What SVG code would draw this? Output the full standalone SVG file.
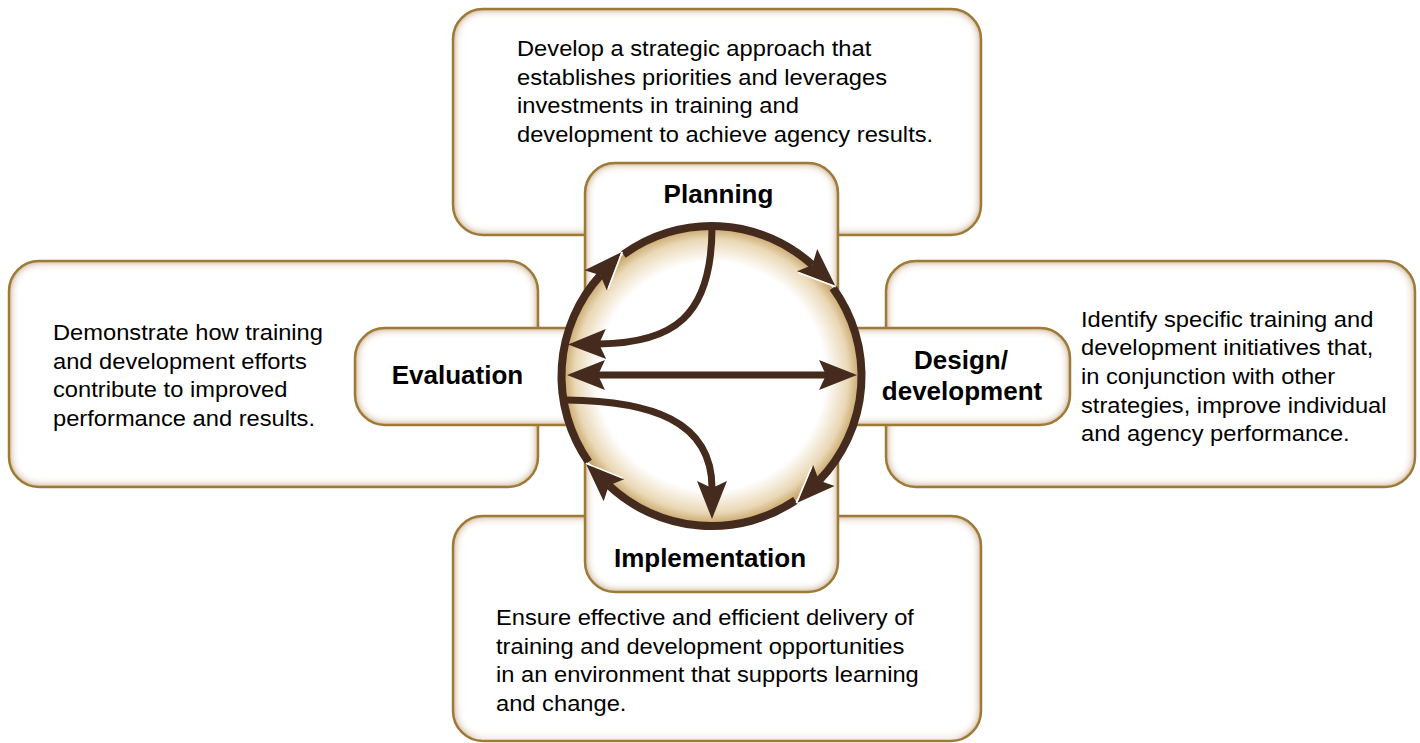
<svg xmlns="http://www.w3.org/2000/svg" width="1420" height="743" viewBox="0 0 1420 743">
  <defs>
    <!-- soft tan glow just inside each rounded panel -->
    <filter id="glow" filterUnits="userSpaceOnUse" x="0" y="0" width="1420" height="743">
      <feFlood flood-color="#c29c58" result="c"/>
      <feComposite in="c" in2="SourceAlpha" operator="out" result="o"/>
      <feGaussianBlur in="o" stdDeviation="5" result="b"/>
      <feComponentTransfer in="b" result="bb">
        <feFuncA type="linear" slope="1.5"/>
      </feComponentTransfer>
      <feComposite in="bb" in2="SourceAlpha" operator="in" result="inner"/>
      <feMerge>
        <feMergeNode in="SourceGraphic"/>
        <feMergeNode in="inner"/>
      </feMerge>
    </filter>
    <radialGradient id="disc" cx="0.5" cy="0.5" r="0.5">
      <stop offset="0" stop-color="#ffffff"/>
      <stop offset="0.76" stop-color="#ffffff"/>
      <stop offset="0.91" stop-color="#ead8b6"/>
      <stop offset="1" stop-color="#c49f5f"/>
    </radialGradient>
    <!-- arrowhead for the inner arrows -->
    <marker id="head" markerUnits="userSpaceOnUse" markerWidth="44" markerHeight="34" viewBox="0 -17 44 34" refX="7" refY="0" orient="auto-start-reverse" overflow="visible">
      <path d="M0,-15 L38,0 L0,15 L7,0 Z" fill="#452a1e"/>
    </marker>
    <!-- arrowhead for the cycle ring, with a light inner edge -->
    <marker id="ringHead" markerUnits="userSpaceOnUse" markerWidth="44" markerHeight="34" viewBox="0 -17 44 34" refX="7" refY="0" orient="auto" overflow="visible">
      <path d="M0,-15 L38,0 L0,15 L7,0 Z" fill="#452a1e"/>
      <path d="M39,0.5 L2,15" stroke="#ffffff" stroke-width="1.6" fill="none"/>
    </marker>
  </defs>
  <style>
    .box{fill:#ffffff;filter:url(#glow)}
    .edge{fill:none;stroke:#9e7a38;stroke-width:2.5}
    .desc{font-family:"Liberation Sans",Arial,sans-serif;font-size:22px;fill:#000000}
    .label{font-family:"Liberation Sans",Arial,sans-serif;font-size:26px;font-weight:bold;fill:#000000;text-anchor:middle}
    .wire{fill:none;stroke:#452a1e;stroke-width:8}
    .tip{fill:none;stroke:none;marker-end:url(#ringHead)}
    .arrow{fill:none;stroke:#452a1e;stroke-width:7}
  </style>

  <!-- description panels -->
  <g id="desc-planning">
    <rect class="box" x="453" y="9" width="528" height="226" rx="30"/>
    <rect class="edge" x="453" y="9" width="528" height="226" rx="30"/>
    <text class="desc" transform="translate(517,56) scale(1.077,1)">
      <tspan x="0" y="0">Develop a strategic approach that</tspan>
      <tspan x="0" y="28.7">establishes priorities and leverages</tspan>
      <tspan x="0" y="57.4">investments in training and</tspan>
      <tspan x="0" y="86.1">development to achieve agency results.</tspan>
    </text>
  </g>
  <g id="desc-evaluation">
    <rect class="box" x="9" y="261" width="529" height="226" rx="30"/>
    <rect class="edge" x="9" y="261" width="529" height="226" rx="30"/>
    <text class="desc" transform="translate(53,340) scale(1.077,1)">
      <tspan x="0" y="0">Demonstrate how training</tspan>
      <tspan x="0" y="28.7">and development efforts</tspan>
      <tspan x="0" y="57.4">contribute to improved</tspan>
      <tspan x="0" y="86.1">performance and results.</tspan>
    </text>
  </g>
  <g id="desc-design">
    <rect class="box" x="886" y="261" width="529" height="226" rx="30"/>
    <rect class="edge" x="886" y="261" width="529" height="226" rx="30"/>
    <text class="desc" transform="translate(1081,326.5) scale(1.077,1)">
      <tspan x="0" y="0">Identify specific training and</tspan>
      <tspan x="0" y="28.7">development initiatives that,</tspan>
      <tspan x="0" y="57.4">in conjunction with other</tspan>
      <tspan x="0" y="86.1">strategies, improve individual</tspan>
      <tspan x="0" y="114.8">and agency performance.</tspan>
    </text>
  </g>
  <g id="desc-implementation">
    <rect class="box" x="453" y="516" width="528" height="225" rx="30"/>
    <rect class="edge" x="453" y="516" width="528" height="225" rx="30"/>
    <text class="desc" transform="translate(496,625) scale(1.077,1)">
      <tspan x="0" y="0">Ensure effective and efficient delivery of</tspan>
      <tspan x="0" y="28.7">training and development opportunities</tspan>
      <tspan x="0" y="57.4">in an environment that supports learning</tspan>
      <tspan x="0" y="86.1">and change.</tspan>
    </text>
  </g>

  <!-- stage tabs; their inner ends meet under the ring -->
  <g id="stage-planning">
    <rect class="box" x="585" y="163" width="253" height="240" rx="30"/>
    <rect class="edge" x="585" y="163" width="253" height="240" rx="30"/>
    <text class="label" x="718.5" y="203">Planning</text>
  </g>
  <g id="stage-implementation">
    <rect class="box" x="585" y="352" width="253" height="240" rx="30"/>
    <rect class="edge" x="585" y="352" width="253" height="240" rx="30"/>
    <text class="label" x="710" y="567">Implementation</text>
  </g>
  <g id="stage-evaluation">
    <rect class="box" x="355" y="328" width="370" height="97" rx="30"/>
    <rect class="edge" x="355" y="328" width="370" height="97" rx="30"/>
    <text class="label" x="457.5" y="384">Evaluation</text>
  </g>
  <g id="stage-design">
    <rect class="box" x="698" y="328" width="372" height="97" rx="30"/>
    <rect class="edge" x="698" y="328" width="372" height="97" rx="30"/>
    <text class="label" x="961" y="369">Design/</text>
    <text class="label" x="962" y="400">development</text>
  </g>

  <!-- the cycle disc -->
  <g id="cycle">
    <circle cx="711.5" cy="376" r="150" fill="url(#disc)"/>
  </g>

  <g id="connectors">
    <!-- ring arcs, clockwise -->
    <path class="wire" d="M623.3,254.6 A150,150 0 0 1 812.3,264.9"/>
    <path class="wire" d="M832.9,287.8 A150,150 0 0 1 819.0,480.6"/>
    <path class="wire" d="M795.4,500.4 A150,150 0 0 1 608.8,485.4"/>
    <path class="wire" d="M588.6,462.0 A150,150 0 0 1 600.4,275.2"/>
    <!-- ring arrowheads drawn over the arcs -->
    <path class="tip" d="M623.3,254.6 A150,150 0 0 1 812.3,264.9"/>
    <path class="tip" d="M832.9,287.8 A150,150 0 0 1 819.0,480.6"/>
    <path class="tip" d="M795.4,500.4 A150,150 0 0 1 608.8,485.4"/>
    <path class="tip" d="M588.6,462.0 A150,150 0 0 1 600.4,275.2"/>
    <!-- planning feeds evaluation -->
    <path class="arrow" d="M712,227 C712,318 672,343 599,344" marker-end="url(#head)"/>
    <!-- evaluation and design exchange -->
    <path class="arrow" d="M598,375 L826,375" marker-start="url(#head)" marker-end="url(#head)"/>
    <!-- evaluation feeds implementation -->
    <path class="arrow" d="M566,400 C650,401 712,420 712,488" marker-end="url(#head)"/>
  </g>
</svg>
